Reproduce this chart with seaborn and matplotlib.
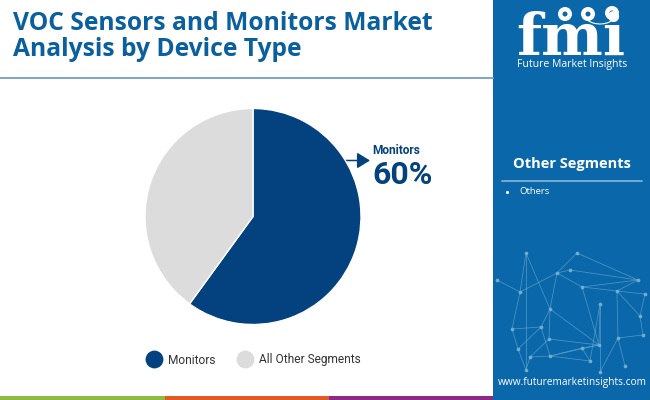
import matplotlib
matplotlib.use("Agg")
import matplotlib.pyplot as plt
import seaborn as sns
from matplotlib.patches import Rectangle, Circle, Arc

# chart values
segments = ["Monitors", "All Other Segments"]
shares = [60, 40]
seg_colors = ["#03417F", "#DCDCDC"]
side_items = ["Others"]

# decoration of the side panel
net_nodes = [(526, 253), (577, 253), (557, 273), (520, 292), (550, 309), (638, 280), (582, 287),
             (617, 291), (600, 304), (512, 329), (541, 327), (549, 339), (599, 345), (618, 338),
             (643, 335), (518, 349), (530, 357), (550, 356), (582, 348), (526, 370), (590, 361),
             (640, 316), (625, 366), (570, 270), (497, 280), (645, 294), (600, 372)]
net_links = [(0, 3), (0, 4), (3, 9), (3, 2), (2, 1), (2, 4), (2, 6), (6, 5), (1, 5), (6, 7), (5, 7),
             (4, 12), (4, 10), (4, 11), (10, 9), (10, 15), (11, 12), (11, 16), (16, 17), (17, 12),
             (12, 18), (18, 17), (6, 12), (7, 13), (13, 14), (13, 22), (15, 19), (19, 16), (18, 20),
             (20, 17), (7, 21), (21, 14), (9, 15), (10, 17), (12, 8), (8, 20), (24, 3), (23, 5),
             (7, 25), (8, 26), (0, 19), (13, 26), (2, 23), (21, 25)]

sns.set_theme(style="white")
plt.rcParams['font.family'] = ['Open Sans', 'DejaVu Sans']

fig = plt.figure(figsize=(6.5, 4), dpi=100)

# full figure layer in pixels
bg = fig.add_axes([0, 0, 1, 1])
bg.set_xlim(0, 650)
bg.set_ylim(400, 0)
bg.axis("off")

blue = "#0A67A9"
bg.add_patch(Rectangle((493, 0), 157, 400, color=blue, lw=0))
bg.plot([0, 493], [77.5, 77.5], color="#7FA6C2", lw=1.4)

# bottom strip
bg.add_patch(Rectangle((0, 396), 165, 4, color="#8DBB3F", lw=0))
bg.add_patch(Rectangle((165, 396), 164, 4, color="#E05B25", lw=0))
bg.add_patch(Rectangle((329, 396), 164, 4, color="#8A2A86", lw=0))

# title
bg.text(13, 24, "VOC Sensors and Monitors Market", fontsize=17.7, fontweight="bold",
        color="#0A5F9E", va="center", ha="left")
bg.text(13, 50, "Analysis by Device Type", fontsize=17.7, fontweight="bold",
        color="#0A5F9E", va="center", ha="left")

# network texture
for a, b in net_links:
    bg.plot([net_nodes[a][0], net_nodes[b][0]], [net_nodes[a][1], net_nodes[b][1]],
            color="#6FB0D0", lw=0.6, alpha=0.6)
bg.scatter([n[0] for n in net_nodes], [n[1] for n in net_nodes], s=7, color="#8CC0D6", alpha=0.8, lw=0)

# logo
bg.text(571, 55, "fmi", fontsize=42, fontweight="bold", family="DejaVu Serif",
        color="white", ha="center", va="baseline")
for y in range(25, 56, 5):
    bg.plot([513, 630], [y, y], color=blue, lw=0.8)
for x, y in [(565, 14), (588, 14), (612, 13)]:
    bg.add_patch(Circle((x, y), 7, color="white", lw=0))
    bg.add_patch(Circle((x, y), 2.5, color=blue, lw=0))
bg.add_patch(Arc((600, 12), 34, 24, theta1=20, theta2=150, color="white", lw=0.8))
bg.text(572, 64.5, "Future Market Insights", fontsize=7.6, color="white", ha="center", va="center")

# side panel
bg.text(572, 164, "Other Segments", fontsize=10.5, fontweight="bold", color="white", ha="center", va="center")
bg.plot([502, 642], [181, 181], color="#7FB0D6", lw=1.3)
for i, item in enumerate(side_items):
    bg.scatter([507], [192 + i * 16], s=5, color="white", lw=0)
    bg.text(519, 192 + i * 16, item, fontsize=6.8, color="white", va="center")
bg.text(572, 383, "www.futuremarketinsights.com", fontsize=7.3, color="white", ha="center", va="center")

# pie
ax = fig.add_axes([145 / 650, 1 - 324.5 / 400, 216 / 650, 216 / 400])
ax.pie(shares, colors=sns.color_palette(seg_colors), startangle=90, counterclock=False, radius=1)
ax.set_xlim(-1, 1)
ax.set_ylim(-1, 1)

# callout
bg.annotate("", xy=(370, 160.5), xytext=(344, 160.5),
            arrowprops=dict(arrowstyle="-|>,head_width=0.4,head_length=0.65", color="#03417F", lw=1.1,
                            shrinkA=0, shrinkB=0))
bg.text(372, 150, segments[0], fontsize=8.6, fontweight="bold", family="Roboto", color="#03417F", va="center")
bg.text(372, 175, f"{shares[0]}%", fontsize=23, fontweight="bold", family="Roboto", color="#03417F", va="center")

# legend
bg.scatter([154], [359], s=165, color=seg_colors[0], lw=0)
bg.text(168, 360, segments[0], fontsize=8.6, family="Roboto", color="#333333", va="center")
bg.scatter([245], [359], s=165, color=seg_colors[1], lw=0)
bg.text(259, 360, segments[1], fontsize=8.6, family="Roboto", color="#333333", va="center")

fig.savefig("out.png", dpi=100)
